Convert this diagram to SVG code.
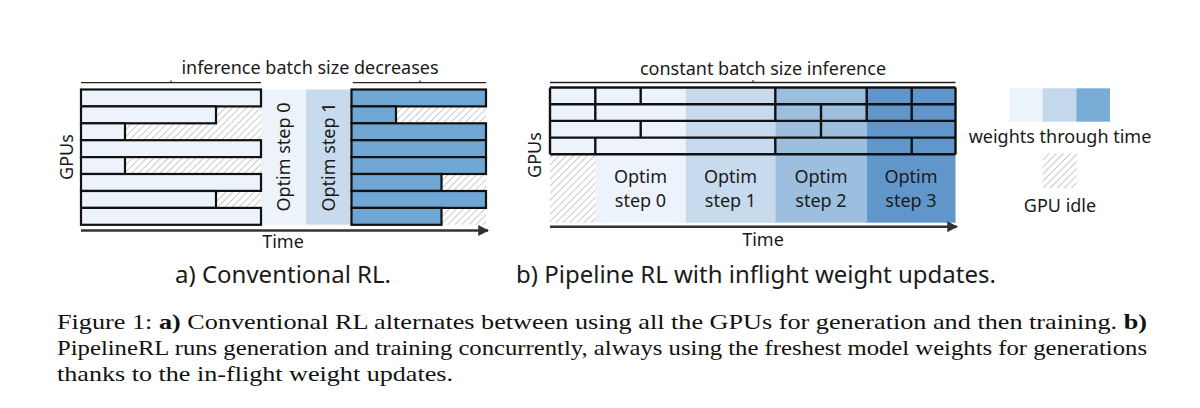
<svg xmlns="http://www.w3.org/2000/svg" width="1200" height="408" viewBox="0 0 1200 408">
  <style>
    .lbl { font-family: "Noto Sans", "Open Sans", sans-serif; fill: #1a1a1a; }
    .s18 { font-size: 18px; }
    .sub { font-size: 24px; }
    .cap { font-family: "Liberation Serif", "Times New Roman", serif; font-size: 21px; fill: #111; }
    .bar { stroke: #111; stroke-width: 2.2; }
    .grid { stroke: #111; stroke-width: 2.4; fill: none; }
    .brk { stroke: #222; stroke-width: 1.3; fill: none; }
    .axis { stroke: #333; stroke-width: 2.4; fill: none; }
    .c0 { fill: #EDF3FA; }
    .c1 { fill: #C8DAED; }
    .c2 { fill: #9DBFDF; }
    .c3 { fill: #6196CA; }
    .ca { fill: #70A6D3; }
    .idle { fill: url(#hatch); }
  </style>
  <defs>
    <pattern id="hatch" patternUnits="userSpaceOnUse" width="5" height="5" patternTransform="rotate(45)">
      <rect width="5" height="5" fill="#ffffff"/>
      <line x1="0" y1="0" x2="0" y2="5" stroke="#8a8a8a" stroke-width="0.9"/>
    </pattern>
    <marker id="arrow" viewBox="0 0 10 10" refX="9" refY="5" markerWidth="4.5" markerHeight="4.5" orient="auto" markerUnits="strokeWidth">
      <path d="M0,0 L10,5 L0,10 z" fill="#333"/>
    </marker>
  </defs>
  <rect width="1200" height="408" fill="#ffffff"/>

  <!-- Panel a -->
  <g id="panel-a">
    <text class="lbl s18" x="310" y="74" text-anchor="middle">inference batch size decreases</text>
    <path class="brk" d="M81,82.7 H261 M171,82.7 V80.5 M352.7,82.7 H486 M420,82.7 V80.5"/>
    <!-- optim columns -->
    <rect class="c0" x="261" y="89.5" width="45" height="135.2"/>
    <rect class="c1" x="306" y="89.5" width="45.5" height="135.2"/>
    <text class="lbl s18" transform="translate(289.5,157) rotate(-90)" text-anchor="middle">Optim step 0</text>
    <text class="lbl s18" transform="translate(334.5,157) rotate(-90)" text-anchor="middle">Optim step 1</text>
    <!-- left idle -->
    <rect class="idle" x="216" y="106.4" width="45" height="16.9"/>
    <rect class="idle" x="125" y="123.3" width="136" height="16.9"/>
    <rect class="idle" x="125" y="157.1" width="136" height="16.9"/>
    <rect class="idle" x="216" y="191" width="45" height="16.9"/>
    <!-- left bars -->
    <rect class="bar c0" x="81" y="89.5" width="180" height="16.9"/>
    <rect class="bar c0" x="81" y="106.4" width="135" height="16.9"/>
    <rect class="bar c0" x="81" y="123.3" width="44" height="16.9"/>
    <rect class="bar c0" x="81" y="140.2" width="180" height="16.9"/>
    <rect class="bar c0" x="81" y="157.1" width="44" height="16.9"/>
    <rect class="bar c0" x="81" y="174" width="180" height="16.9"/>
    <rect class="bar c0" x="81" y="191" width="135" height="16.9"/>
    <rect class="bar c0" x="81" y="207.9" width="180" height="16.9"/>
    <!-- right idle -->
    <rect class="idle" x="396" y="106.4" width="90" height="16.9"/>
    <rect class="idle" x="441.5" y="174" width="44.5" height="16.9"/>
    <rect class="idle" x="441.5" y="207.9" width="44.5" height="16.9"/>
    <!-- right bars -->
    <rect class="bar ca" x="351.5" y="89.5" width="134.5" height="16.9"/>
    <rect class="bar ca" x="351.5" y="106.4" width="44.5" height="16.9"/>
    <rect class="bar ca" x="351.5" y="123.3" width="134.5" height="16.9"/>
    <rect class="bar ca" x="351.5" y="140.2" width="134.5" height="16.9"/>
    <rect class="bar ca" x="351.5" y="157.1" width="134.5" height="16.9"/>
    <rect class="bar ca" x="351.5" y="174" width="90" height="16.9"/>
    <rect class="bar ca" x="351.5" y="191" width="134.5" height="16.9"/>
    <rect class="bar ca" x="351.5" y="207.9" width="90" height="16.9"/>
    <text class="lbl s18" transform="translate(73,157) rotate(-90)" text-anchor="middle">GPUs</text>
    <text class="lbl s18" x="283" y="248" text-anchor="middle">Time</text>
    <text class="lbl sub" x="283" y="283" text-anchor="middle">a) Conventional RL.</text>
  </g>

  <!-- Panel b -->
  <g id="panel-b">
    <text class="lbl s18" x="763" y="75" text-anchor="middle">constant batch size inference</text>
    <path class="brk" d="M550,82.5 H955.5 M753,82.5 V80.3"/>
    <rect class="c0" x="550" y="87.5" width="135.7" height="135.2"/>
    <rect class="c1" x="685.7" y="87.5" width="89.6" height="135.2"/>
    <rect class="c2" x="775.3" y="87.5" width="91.4" height="135.2"/>
    <rect class="c3" x="866.7" y="87.5" width="88.8" height="135.2"/>
    <rect class="idle" x="550" y="154.3" width="45.3" height="68.4"/>
    <path class="grid" d="M550,87.5 H955.5 M550,104.2 H955.5 M550,120.9 H955.5 M550,137.6 H955.5 M550,154.3 H955.5 M550,87.5 V154.3 M955.5,87.5 V154.3
      M595.3,87.5 V104.2 M640.7,87.5 V104.2 M775.3,87.5 V104.2 M866.7,87.5 V104.2 M911.7,87.5 V104.2
      M595.3,104.2 V120.9 M775.3,104.2 V120.9 M821,104.2 V120.9 M866.7,104.2 V120.9 M911.7,104.2 V120.9
      M640.7,120.9 V137.6 M821,120.9 V137.6
      M595.3,137.6 V154.3 M775.3,137.6 V154.3 M911.7,137.6 V154.3"/>
    <text class="lbl s18" x="640.5" y="183" text-anchor="middle">Optim</text>
    <text class="lbl s18" x="640.5" y="206.5" text-anchor="middle">step 0</text>
    <text class="lbl s18" x="730.5" y="183" text-anchor="middle">Optim</text>
    <text class="lbl s18" x="730.5" y="206.5" text-anchor="middle">step 1</text>
    <text class="lbl s18" x="821" y="183" text-anchor="middle">Optim</text>
    <text class="lbl s18" x="821" y="206.5" text-anchor="middle">step 2</text>
    <text class="lbl s18" x="911" y="183" text-anchor="middle">Optim</text>
    <text class="lbl s18" x="911" y="206.5" text-anchor="middle">step 3</text>
    <text class="lbl s18" transform="translate(541,155) rotate(-90)" text-anchor="middle">GPUs</text>
    <text class="lbl s18" x="763" y="246" text-anchor="middle">Time</text>
    <text class="lbl sub" x="756" y="283" text-anchor="middle">b) Pipeline RL with inflight weight updates.</text>
  </g>

  <!-- Legend -->
  <g id="legend">
    <rect class="c0" x="1009.3" y="88.3" width="33.4" height="33.4"/>
    <rect fill="#C3D8EC" x="1042.7" y="88.3" width="33.6" height="33.4"/>
    <rect fill="#78ABD6" x="1076.3" y="88.3" width="33.7" height="33.4"/>
    <text class="lbl s18" x="1060" y="143" text-anchor="middle">weights through time</text>
    <rect class="idle" x="1042.7" y="153.3" width="34" height="35"/>
    <text class="lbl s18" x="1060" y="212" text-anchor="middle">GPU idle</text>
  </g>

  <!-- Connectors (axes) -->
  <g id="connectors">
    <line class="axis" x1="81" y1="230.5" x2="488" y2="230.5" marker-end="url(#arrow)"/>
    <line class="axis" x1="550" y1="226.7" x2="957" y2="226.7" marker-end="url(#arrow)"/>
  </g>

  <!-- Caption -->
  <g id="caption">
    <text class="cap" x="57" y="329" textLength="1090" lengthAdjust="spacingAndGlyphs">Figure 1: <tspan font-weight="bold">a)</tspan> Conventional RL alternates between using all the GPUs for generation and then training. <tspan font-weight="bold">b)</tspan></text>
    <text class="cap" x="57" y="355" textLength="1090" lengthAdjust="spacingAndGlyphs">PipelineRL runs generation and training concurrently, always using the freshest model weights for generations</text>
    <text class="cap" x="57" y="381" textLength="396" lengthAdjust="spacingAndGlyphs">thanks to the in-flight weight updates.</text>
  </g>
</svg>
